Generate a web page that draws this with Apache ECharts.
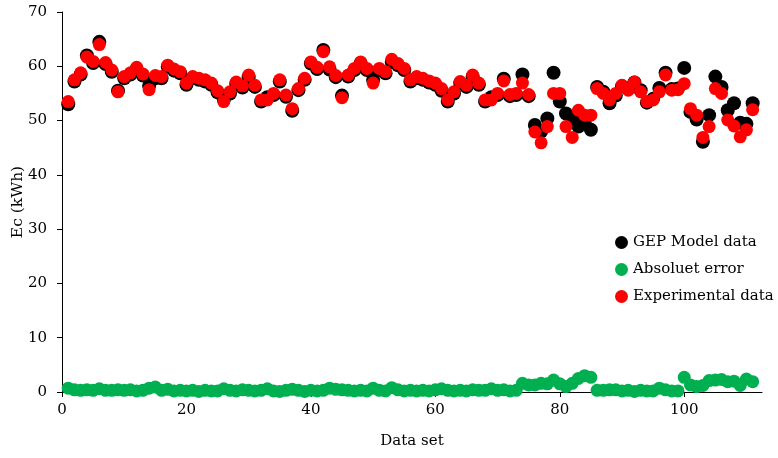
<!DOCTYPE html>
<html>
<head>
<meta charset="utf-8">
<script src="https://cdn.jsdelivr.net/npm/echarts@6/dist/echarts.min.js"></script>
<style>html,body{margin:0;padding:0;background:#fff}#c{width:778px;height:458px}</style>
</head>
<body>
<div id="c"></div>
<script>
const seriesNames = ["GEP Model data", "Absoluet error", "Experimental data"];
const xTicks = [0, 20, 40, 60, 80, 100];
const yTicks = [0, 10, 20, 30, 40, 50, 60, 70];

const experimental = [
53.5,57.5,58.8,61.7,60.9,64.0,60.7,59.3,55.3,58.1,
58.8,59.8,58.6,55.7,58.3,58.1,60.2,59.5,59.0,56.9,
58.1,57.8,57.5,56.9,55.5,53.5,55.3,57.1,56.4,58.4,
56.5,53.8,53.8,55.0,57.5,54.7,52.2,55.9,57.8,
60.8,59.8,62.7,59.9,58.3,54.2,58.4,59.6,60.8,59.6,
56.9,59.6,59.0,61.3,60.5,59.6,57.5,58.1,57.8,57.3,
56.9,55.9,53.8,55.3,57.2,56.5,58.4,56.9,53.8,53.8,
55.0,57.3,54.8,55.0,56.9,54.8,47.9,45.9,48.9,55.0,
55.0,48.9,46.9,51.9,51.0,51.0,55.9,55.0,53.8,55.0,
56.5,55.6,57.1,55.3,53.5,53.8,55.3,58.4,55.6,55.7,
56.8,52.2,51.0,46.9,48.9,55.9,55.0,50.1,49.0,47.0,
48.3,52.0];

const gepModel = [
53.0,57.2,58.5,62.0,60.6,64.5,60.4,59.0,55.5,57.8,
58.5,59.5,58.3,56.4,57.8,57.8,59.9,59.2,58.7,56.6,
57.8,57.5,57.2,56.6,55.2,53.9,55.0,56.8,56.1,58.0,
56.2,53.5,54.3,54.7,57.2,54.4,51.8,55.6,57.5,
60.5,59.5,63.0,59.4,58.0,54.6,58.1,59.3,60.5,59.3,
57.5,59.3,58.7,60.8,60.2,59.3,57.2,57.8,57.5,57.0,
56.6,55.5,53.5,55.0,56.9,56.2,58.1,56.6,53.5,54.3,
54.7,57.7,54.5,54.7,58.5,54.5,49.2,48.0,50.4,58.8,
53.5,51.3,50.4,48.9,49.5,48.3,56.2,55.3,53.2,54.6,
56.3,55.9,57.0,55.6,53.3,54.0,56.0,58.8,55.8,55.9,
59.7,51.6,50.2,46.1,51.0,58.1,56.2,51.9,53.2,49.6,
49.4,53.2];

const absError = [
0.7,0.4,0.3,0.4,0.3,0.6,0.3,0.3,0.4,0.3,
0.4,0.2,0.3,0.7,0.9,0.3,0.5,0.2,0.3,0.2,
0.3,0.1,0.3,0.2,0.2,0.6,0.3,0.2,0.4,0.3,
0.2,0.3,0.6,0.2,0.1,0.3,0.5,0.3,0.1,
0.3,0.2,0.3,0.7,0.5,0.4,0.3,0.2,0.3,0.2,
0.7,0.3,0.2,0.8,0.4,0.2,0.3,0.2,0.3,0.2,
0.4,0.6,0.3,0.2,0.3,0.2,0.4,0.3,0.3,0.6,
0.3,0.4,0.2,0.3,1.6,1.3,1.3,1.6,1.5,2.2,
1.5,1.0,1.6,2.5,3.0,2.7,0.3,0.3,0.4,0.4,
0.2,0.3,0.1,0.3,0.2,0.2,0.7,0.4,0.2,0.2,
2.7,1.3,1.0,1.2,2.1,2.2,2.3,1.9,2.0,1.2,
2.4,1.9];

function pairs(arr){ return arr.map((v,i)=>[i+1,v]); }

const font = "DejaVu Serif";
const chart = echarts.init(document.getElementById('c'), null, {renderer:'canvas'});
chart.setOption({
  animation:false,
  backgroundColor:'#fff',
  grid:{left:62,right:16,top:12,bottom:66,containLabel:false,outerBoundsMode:'none'},
  legend:{
    orient:'vertical', left:610, top:230,
    itemWidth:13, itemHeight:13, itemGap:12,
    icon:'circle',
    textStyle:{fontFamily:font,fontSize:15,color:'#000'},
    data:seriesNames
  },
  xAxis:{
    type:'value', min:0, max:112.5, interval:20,
    name:'Data set', nameLocation:'middle', nameGap:42,
    nameTextStyle:{fontFamily:font,fontSize:15,color:'#000'},
    axisLine:{lineStyle:{color:'#000',width:1}},
    axisTick:{show:true,inside:false,length:5,lineStyle:{color:'#000'},customValues:xTicks},
    axisLabel:{fontFamily:font,fontSize:15,color:'#000',margin:11,customValues:xTicks},
    splitLine:{show:false}
  },
  yAxis:{
    type:'value', min:0, max:70, interval:10,
    name:'Ec (kWh)', nameLocation:'middle', nameGap:36, nameMoveOverlap:false,
    nameTextStyle:{fontFamily:font,fontSize:15.5,color:'#000'},
    axisLine:{show:true,lineStyle:{color:'#000',width:1}},
    axisTick:{show:true,inside:false,length:5,lineStyle:{color:'#000'},customValues:yTicks},
    axisLabel:{fontFamily:font,fontSize:15,color:'#000',margin:15,customValues:yTicks},
    splitLine:{show:false}
  },
  series:[
    {name:seriesNames[0],type:'scatter',symbol:'circle',symbolSize:14,itemStyle:{color:'#000000',opacity:1},data:pairs(gepModel)},
    {name:seriesNames[1],type:'scatter',symbol:'circle',symbolSize:13,itemStyle:{color:'#00b050',opacity:1},data:pairs(absError)},
    {name:seriesNames[2],type:'scatter',symbol:'circle',symbolSize:13,itemStyle:{color:'#ff0000',opacity:1},data:pairs(experimental)}
  ]
});
</script>
</body>
</html>
